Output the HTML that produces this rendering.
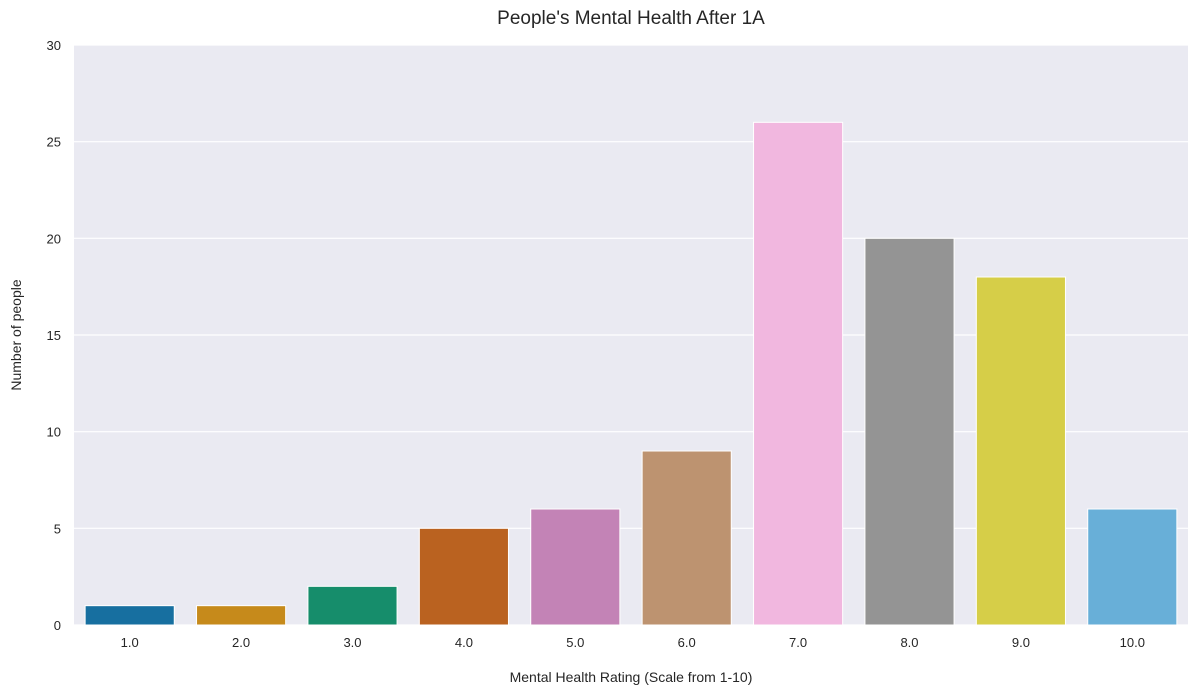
<!DOCTYPE html>
<html><head><meta charset="utf-8"><style>
body{margin:0;background:#fff;font-family:"Liberation Sans",sans-serif;}
</style></head><body>
<svg id="chart" width="1199" height="695" xmlns="http://www.w3.org/2000/svg" font-family="Liberation Sans, sans-serif">
<rect x="74" y="45" width="1114" height="580" fill="#eaeaf2"/>
<g id="grid"></g><g id="bars"></g><g id="ticks"></g>
<text x="631" y="24" text-anchor="middle" font-size="19" fill="#262626">People's Mental Health After 1A</text>
<text x="631" y="682" text-anchor="middle" font-size="14" fill="#262626">Mental Health Rating (Scale from 1-10)</text>
<text transform="translate(21,335) rotate(-90)" text-anchor="middle" font-size="14" fill="#262626">Number of people</text>
</svg>
<script>
const categories=["1.0","2.0","3.0","4.0","5.0","6.0","7.0","8.0","9.0","10.0"];
const counts=[1,1,2,5,6,9,26,20,18,6];
const yTicks=[0,5,10,15,20,25,30];
const colors=["#176fa0","#c68a1b","#168d6b","#ba6220","#c383b6","#bd9370","#f1b7df","#949494","#d6ce48","#68afd8"];
const ns="http://www.w3.org/2000/svg";
const X0=74,X1=1188,Y0=625,Y1=45,YMAX=30;
const band=(X1-X0)/categories.length;
const y=v=>Y0-(v/YMAX)*(Y0-Y1);
const x=i=>X0+band*i;
function mk(t,a,p){const e=document.createElementNS(ns,t);for(const k in a)e.setAttribute(k,a[k]);p.appendChild(e);return e;}
const grid=document.getElementById('grid'),bars=document.getElementById('bars'),ticks=document.getElementById('ticks');
yTicks.forEach(v=>{
 const l=mk('line',{x1:X0,x2:X1,y1:y(v),y2:y(v),stroke:'#fff','stroke-width':1.2},grid);
 
 
 const t=mk('text',{x:61,y:y(v)+5,'text-anchor':'end','font-size':13,fill:'#262626'},ticks);
 t.textContent=v;
 
 
});
categories.forEach((c,i)=>{
 const w=band*0.8;
 const r=mk('rect',{x:x(i)+band*0.1,y:y(counts[i]),width:w,height:Y0-y(counts[i]),fill:colors[i],stroke:'#fff','stroke-width':1},bars);
 
 
 const t=mk('text',{x:x(i)+band/2,y:647,'text-anchor':'middle','font-size':13,fill:'#262626'},ticks);
 t.textContent=c;
 
 
});
</script>
</body></html>
